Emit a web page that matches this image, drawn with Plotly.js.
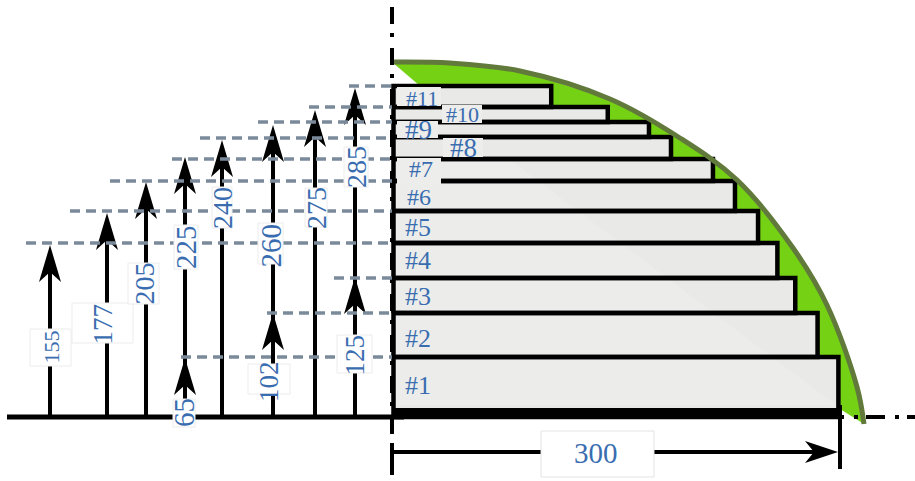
<!DOCTYPE html>
<html><head><meta charset="utf-8">
<script src="https://cdn.plot.ly/plotly-3.0.1.min.js"></script>
<style>html,body{margin:0;padding:0;background:#fff}</style></head>
<body><div id="chart" style="width:915px;height:481px"></div>
<script>
// ---- values ----
const stageNames   = ['#1','#2','#3','#4','#5','#6','#7','#8','#9','#10','#11'];
const barWidths    = [300,286,271,259,246,230.5,215.7,187.5,172.7,145,107];
const barTops      = [60,104,139,174,206,236,258,280,295,310,331];
const stageLabels  = ['65','102','125','155','177','205','225','240','260','275','285'];
const arrowTips    = [59,104,140,172,204,235,260,277,292,307,329];
const curveX = [0,39,86,146.5,193.5,231.9,269.5,292.3,312.5,317.2];
const curveY = [355,354,346,318,279,237,169,112,30,-7];
const spanLabel = '300';

// ---- drawing geometry (page pixels) ----
const PX = 1.488, X0 = 392, Y0 = 417;
const toX = p => (p - X0) / PX, toY = p => Y0 - p;
const arrowPx  = {'65':185,'102':273,'125':355,'155':50,'177':107,'205':146,'225':185,'240':222,'260':273,'275':315,'285':355};
const dashFrom = {'65':181,'102':267,'125':334,'155':26,'177':70,'205':110,'225':172,'240':200,'260':258,'275':309,'285':349};
const dashAt   = {'65':357,'102':313,'125':278,'155':243,'177':211,'205':181,'225':159,'240':138,'260':122,'275':107,'285':86};
// x0,x1,y0,y1, text centre y, font size
const valueBoxes = {
 '155':[30,71,329,366,347,22],'177':[72,133,303,343,324,27],'205':[128,159,263,304,284,28],
 '225':[174,198,225,269,247,29],'240':[212,232,187,228,208,28],'260':[258,283,223,264,246,29],
 '275':[305,327,188,227,208,28],'285':[344,368,147,187,167,28],'125':[337,372,335,373,355,27],
 '102':[248,290,364,394,382,27],'65':[173,195,399,427,413,29]};
const nameSpots = {'#1':[418,385,26],'#2':[418,338,26],'#3':[418,296,26],'#4':[418,260,26],'#5':[418,227,26],
 '#6':[419,197,24],'#7':[421,169,24],'#8':[463,148,27],'#9':[418,130,27],'#10':[462,114,22],'#11':[422,98,22]};
const nameBoxes = [[397,441,87,106],[442,482,105,123],[397,438,121,138],[443,483,138,157],[397,441,158,184]];

const BLUE = '#3a6db0', GREY = '#7b8a9b';
const traces = [];
const line = (x,y,color,width,dash) => traces.push({x,y,mode:'lines',line:{color,width,dash:dash||'solid'},hoverinfo:'skip'});
const poly = (x,y,fill,lc,lw) => traces.push({x,y,mode:'lines',fill:'toself',fillcolor:fill,line:{color:lc||fill,width:lw||0},hoverinfo:'skip'});

// green segment
traces.push({x:curveX.concat([300,toX(420),curveX[0]]),y:curveY.concat([9,barTops[10],curveY[0]]),mode:'lines',fill:'toself',
  fillcolor:'#74d114',line:{color:'#74d114',width:0,shape:'linear'},hoverinfo:'skip'});
// centre line (horizontal)
line([toX(825),toX(915)],[0,0],'#000',4,'19px,10px,4px,8px');
// bar fills, soft lighter sheen, then outlines
stageNames.forEach((n,i)=>{
  const b = i===0 ? 0 : barTops[i-1], t = barTops[i], w = barWidths[i];
  poly([1,w,w,1,1],[b,b,t,t,b],'#e9eae7');
});
poly([toX(396),toX(510),toX(836),toX(396)],[toY(160),toY(160),toY(405),toY(405)],'#ecedeb');
stageNames.forEach((n,i)=>{
  const b = i===0 ? 0 : barTops[i-1], t = barTops[i], w = barWidths[i];
  line([1,w,w,1,1],[b,b,t,t,b],'#000',4.5);
});
// outer curve
traces.push({x:curveX,y:curveY,mode:'lines',line:{color:'#61793a',width:5,shape:'spline',smoothing:1},hoverinfo:'skip'});
// base lines
line([toX(7),toX(404)],[0,0],'#000',5);
line([0,301],[4,4],'#000',10);
line([0,0],[toY(7),toY(480)],'#000',4,'17px,9px,4px,11px');
// arrows
stageLabels.forEach((lab,i)=>{
  const px = arrowPx[lab], tip = arrowTips[i], L = 37, W = 11, N = 27;
  line([toX(px),toX(px)],[0,tip-20],'#000',4);
  poly([toX(px),toX(px+W),toX(px),toX(px-W),toX(px)],[tip,tip-L,tip-N,tip-L,tip],'#000');
});
// level dashes
stageLabels.forEach(lab=>{
  line([toX(dashFrom[lab]),toX(392)],[toY(dashAt[lab]),toY(dashAt[lab])],GREY,3.5,'10px,6px');
});
// span dimension
line([0,toX(825)],[toY(452),toY(452)],'#000',4);
poly([toX(838),toX(805),toX(814),toX(805),toX(838)],[toY(452),toY(441),toY(452),toY(463),toY(452)],'#000');
line([toX(840),toX(840)],[toY(405),toY(469)],'#000',4);
line([0,0],[toY(445),toY(459)],'#000',4);

const rect = (b,fill,lc) => ({type:'rect',layer:'above',xref:'x',yref:'y',x0:toX(b[0]),x1:toX(b[1]),y0:toY(b[2]),y1:toY(b[3]),
  fillcolor:fill,line:{color:lc||fill,width:lc?1:0}});
const shapes = [], annotations = [];
const text = (t,px,py,size,angle) => annotations.push({x:toX(px),y:toY(py),xref:'x',yref:'y',text:t,showarrow:false,textangle:angle||0,
  font:{family:'"Liberation Serif",serif',size,color:BLUE},xanchor:'center',yanchor:'middle'});

nameBoxes.forEach(b=>shapes.push(rect(b,'#edeeec')));
stageNames.forEach(n=>{const s=nameSpots[n]; text(n,s[0],s[1],s[2]);});
stageLabels.forEach(lab=>{
  const b = valueBoxes[lab];
  shapes.push(rect(b,'#ffffff','#ececec'));
  text(lab,(b[0]+b[1])/2,b[4],b[5],-90);
});
shapes.push(rect([541,654,431,477],'#ffffff','#e3e3e3'));
text(spanLabel,596,453,29);

Plotly.newPlot('chart',traces,{
  width:915,height:481,margin:{l:0,r:0,t:0,b:0},showlegend:false,
  paper_bgcolor:'#fff',plot_bgcolor:'#fff',
  xaxis:{range:[toX(0),toX(915)],visible:false,fixedrange:true},
  yaxis:{range:[toY(481),toY(0)],visible:false,fixedrange:true},
  shapes,annotations
},{displayModeBar:false,staticPlot:true});
</script></body></html>
